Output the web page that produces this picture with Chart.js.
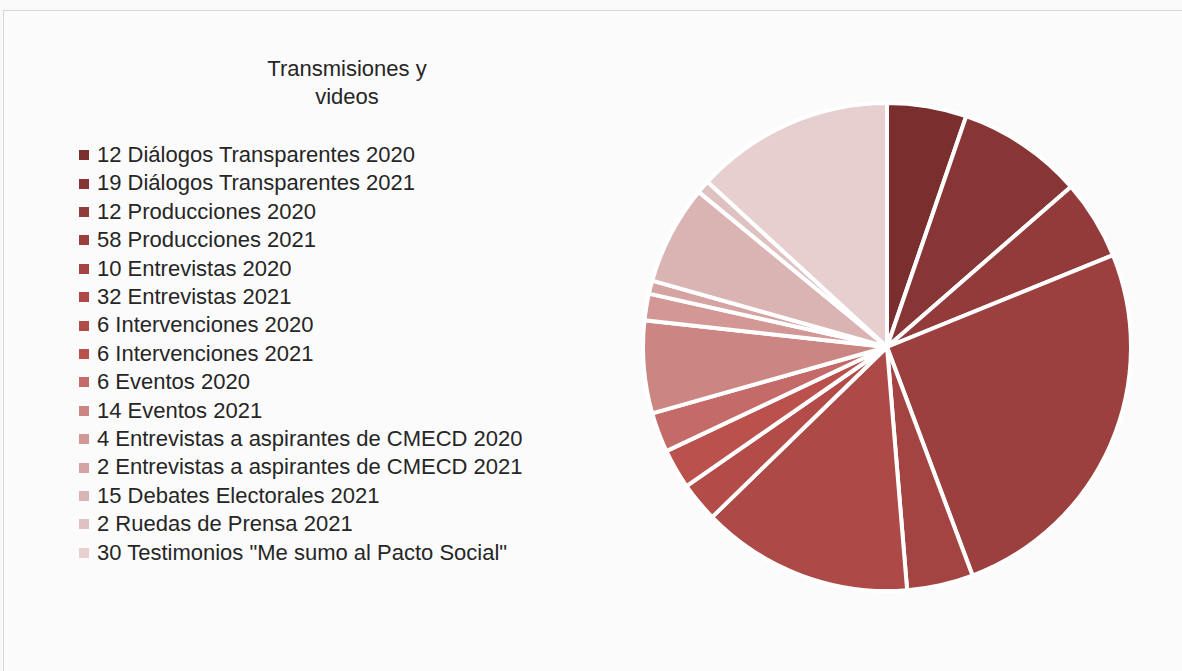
<!DOCTYPE html>
<html>
<head>
<meta charset="utf-8">
<script src="https://cdn.jsdelivr.net/npm/chart.js@4.4.1/dist/chart.umd.min.js"></script>
<style>
  html, body { margin: 0; padding: 0; background: #f9f9f9; }
  #frame {
    position: absolute; left: 3px; top: 10px; width: 1200px; height: 700px;
    border-top: 1px solid #d6d6d6; border-left: 1px solid #d6d6d6;
    background: #fbfbfb; font-family: "Liberation Sans", Arial, sans-serif; color: #262626;
  }
  #title {
    position: absolute; left: 143px; width: 400px; top: 44px;
    text-align: center; font-size: 22px; line-height: 28px;
  }
  #legend {
    position: absolute; left: 75px; top: 130px; margin: 0; padding: 0; list-style: none;
    font-size: 22px; line-height: 28.4px; white-space: nowrap;
  }
  #legend li { display: flex; align-items: center; }
  #legend .box { width: 10px; height: 10px; margin-right: 8px; flex: none; }
  #pie { position: absolute; left: 637px; top: 90px; width: 492px; height: 492px; }
</style>
</head>
<body>
<div id="frame">
  <div id="title">Transmisiones y<br>videos</div>
  <ul id="legend"></ul>
  <div id="pie"><canvas id="chart"></canvas></div>
</div>
<script>
const labels = [
  '12 Diálogos Transparentes 2020',
  '19 Diálogos Transparentes 2021',
  '12 Producciones 2020',
  '58 Producciones 2021',
  '10 Entrevistas 2020',
  '32 Entrevistas 2021',
  '6 Intervenciones 2020',
  '6 Intervenciones 2021',
  '6 Eventos 2020',
  '14 Eventos 2021',
  '4 Entrevistas a aspirantes de CMECD 2020',
  '2 Entrevistas a aspirantes de CMECD 2021',
  '15 Debates Electorales 2021',
  '2 Ruedas de Prensa 2021',
  '30 Testimonios "Me sumo al Pacto Social"'
];
const values = [12, 19, 12, 58, 10, 32, 6, 6, 6, 14, 4, 2, 15, 2, 30];
const colors = [
  '#7a2e2e', '#883535', '#933b3b', '#9b403f', '#a44442',
  '#ad4946', '#b34b48', '#bb514d', '#c46b69', '#cb8582',
  '#d39796', '#d6a3a3', '#dab4b3', '#e0c1c1', '#e7cfd0'
];

// legend rendered as html, built from the chart's own labels
const htmlLegend = {
  id: 'htmlLegend',
  afterUpdate(chart) {
    const ul = document.getElementById('legend');
    ul.innerHTML = '';
    const items = chart.options.plugins.legend.labels.generateLabels(chart);
    items.forEach(item => {
      const li = document.createElement('li');
      const box = document.createElement('span');
      box.className = 'box';
      box.style.background = item.fillStyle;
      const txt = document.createElement('span');
      txt.textContent = item.text;
      li.appendChild(box);
      li.appendChild(txt);
      ul.appendChild(li);
    });
  }
};

new Chart(document.getElementById('chart'), {
  type: 'pie',
  data: {
    labels: labels,
    datasets: [{
      data: values,
      backgroundColor: colors,
      borderColor: '#ffffff',
      borderWidth: 4
    }]
  },
  options: {
    responsive: true,
    maintainAspectRatio: false,
    animation: false,
    plugins: {
      legend: { display: false },
      tooltip: { enabled: false }
    }
  },
  plugins: [htmlLegend]
});
</script>
</body>
</html>
